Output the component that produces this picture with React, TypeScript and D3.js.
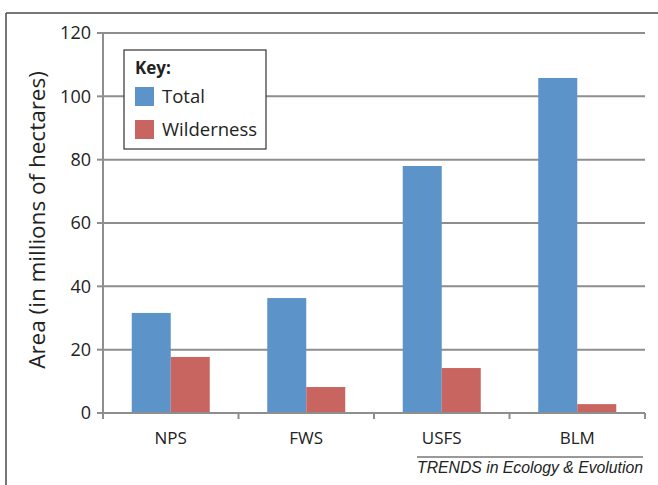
import * as d3 from 'd3'

const WIDTH = 658
const HEIGHT = 485
const MARGIN = { left: 103, right: 13, top: 33, bottom: 72 }

const agencies = ['NPS', 'FWS', 'USFS', 'BLM']
const totalArea = [31.6, 36.3, 78, 105.8]
const wildernessArea = [17.7, 8.2, 14.2, 2.8]
const yTicks = [0, 20, 40, 60, 80, 100, 120]
const seriesNames = ['Total', 'Wilderness']
const seriesColors = ['#5c94c9', '#c96560']

const FONT = "'Open Sans', 'Noto Sans', sans-serif"
const GRID = '#8e8e8e'

export default function App() {
  const x = d3
    .scaleBand<string>()
    .domain(agencies)
    .range([MARGIN.left, WIDTH - MARGIN.right])
  const inner = d3
    .scaleBand<string>()
    .domain(seriesNames)
    .range([0, x.bandwidth()])
    .paddingOuter(0.737)
    .paddingInner(0)
  const y = d3
    .scaleLinear()
    .domain([0, 120])
    .range([HEIGHT - MARGIN.bottom, MARGIN.top])
  const values = [totalArea, wildernessArea]
  const bottom = y(0)

  return (
    <svg
      width={WIDTH}
      height={HEIGHT}
      style={{ position: 'absolute', left: 0, top: 0, background: '#fff' }}
      fontFamily={FONT}
    >
      {/* frame */}
      <line x1={6} x2={WIDTH} y1={13} y2={13} stroke="#4a4a4a" strokeWidth={1.5} />
      <line x1={6} x2={6} y1={13} y2={HEIGHT} stroke="#4a4a4a" strokeWidth={1.5} />

      {/* grid */}
      {yTicks.map((t) => (
        <g key={t}>
          {t > 0 && (
            <line
              x1={MARGIN.left}
              x2={WIDTH - MARGIN.right}
              y1={y(t)}
              y2={y(t)}
              stroke={GRID}
              strokeWidth={2}
            />
          )}
          <line x1={MARGIN.left - 6} x2={MARGIN.left} y1={y(t)} y2={y(t)} stroke={GRID} strokeWidth={2} />
          <text x={MARGIN.left - 12} y={y(t)} dy="0.35em" textAnchor="end" fontSize={18} fill="#222">
            {t}
          </text>
        </g>
      ))}

      {/* bars */}
      {agencies.map((a, i) => (
        <g key={a} transform={`translate(${x(a)},0)`}>
          {seriesNames.map((s, j) => (
            <rect
              key={s}
              x={inner(s)}
              width={inner.bandwidth()}
              y={y(values[j][i])}
              height={bottom - y(values[j][i])}
              fill={seriesColors[j]}
            />
          ))}
          <text
            x={x.bandwidth() / 2}
            y={bottom + 31}
            textAnchor="middle"
            fontSize={17}
            fill="#222"
          >
            {a}
          </text>
        </g>
      ))}

      {/* axes */}
      <line x1={MARGIN.left} x2={WIDTH - MARGIN.right} y1={bottom} y2={bottom} stroke={GRID} strokeWidth={2} />
      <line x1={MARGIN.left} x2={MARGIN.left} y1={y(120)} y2={bottom + 6} stroke={GRID} strokeWidth={2} />
      {agencies.map((a) => (
        <line
          key={a}
          x1={(x(a) ?? 0) + x.bandwidth()}
          x2={(x(a) ?? 0) + x.bandwidth()}
          y1={bottom}
          y2={bottom + 6}
          stroke={GRID}
          strokeWidth={2}
        />
      ))}

      <text
        transform={`translate(45,220) rotate(-90)`}
        textAnchor="middle"
        fontSize={22.5}
        fill="#222"
      >
        Area (in millions of hectares)
      </text>

      {/* legend */}
      <g transform="translate(124,50)">
        <rect width={142} height={99} fill="#fff" stroke="#333" strokeWidth={1.2} />
        <text x={11} y={24} fontSize={17} fontWeight="bold" fill="#222">
          Key:
        </text>
        {seriesNames.map((s, j) => (
          <g key={s} transform={`translate(11,${37 + j * 33})`}>
            <rect width={19} height={19} fill={seriesColors[j]} />
            <text x={27} y={9.5} dy="0.35em" fontSize={18.5} fill="#222">
              {s}
            </text>
          </g>
        ))}
      </g>

      {/* footer */}
      <line x1={417} x2={643} y1={457} y2={457} stroke="#333" strokeWidth={1} />
      <text
        x={417}
        y={473}
        fontSize={16}
        fontStyle="italic"
        fontFamily="'Liberation Sans', Arial, sans-serif"
        fill="#222"
        textLength={226}
        lengthAdjust="spacingAndGlyphs"
      >
        TRENDS in Ecology &amp; Evolution
      </text>
    </svg>
  )
}
